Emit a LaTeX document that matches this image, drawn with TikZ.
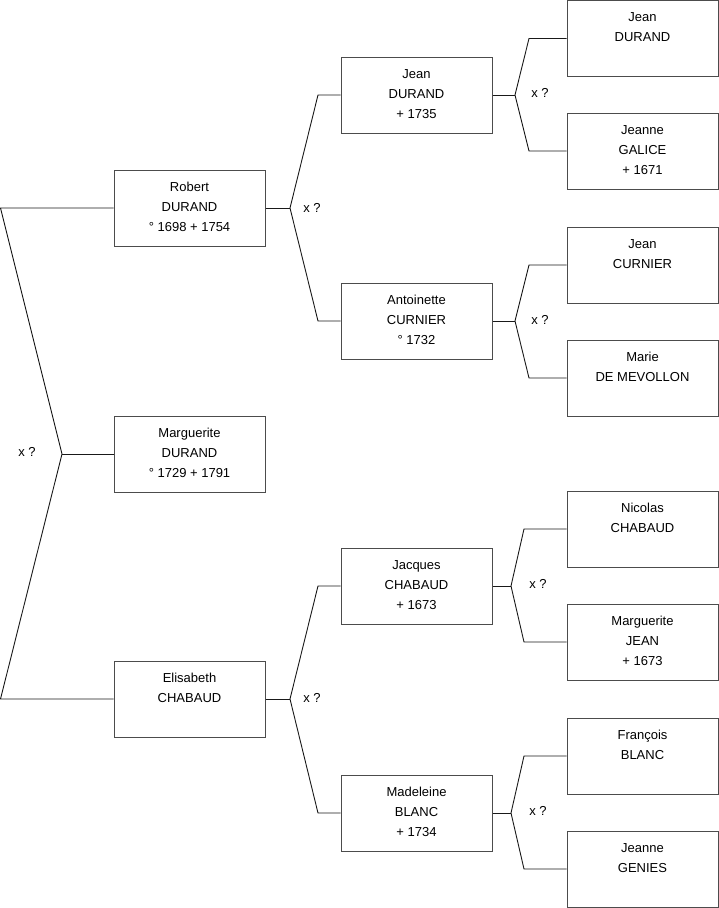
\documentclass[tikz,border=0pt]{standalone}
\usepackage{fontspec}
\setmainfont{Liberation Sans}
\tikzset{
  pbox/.style={draw=black!70, line width=1pt, rectangle, minimum width=151pt, minimum height=76pt, inner sep=0pt, fill=white},
  ptxt/.style={anchor=base, inner sep=0pt, font=\fontsize{13}{15}\selectfont},
  link/.style={draw=black!90, line width=0.9pt},
  xlab/.style={inner sep=0pt, font=\fontsize{13}{15}\selectfont}
}
\newcommand\pbox[4]{%
  \node[pbox] (#1) at (#2,#3) {};
  \foreach \t [count=\i] in {#4} {
    \node[ptxt] (#1-\i) at ([yshift={-1.5pt-20pt*\i}]#1.north) {\t};
  }
}
\begin{document}
\begin{tikzpicture}[x=1pt,y=-1pt]
\useasboundingbox (0,0) rectangle (719,908);
% level 1
\pbox{r}{189.5}{208}{Robert,DURAND,° 1698 + 1754}
\pbox{m}{189.5}{454}{Marguerite,DURAND,° 1729 + 1791}
\pbox{e}{189.5}{699}{Elisabeth,CHABAUD}
% level 2
\pbox{jd}{416.5}{95}{Jean,DURAND,+ 1735}
\pbox{ac}{416.5}{321}{Antoinette,CURNIER,° 1732}
\pbox{jc}{416.5}{586}{Jacques,CHABAUD,+ 1673}
\pbox{mb}{416.5}{813}{Madeleine,BLANC,+ 1734}
% level 3
\pbox{jd2}{642.5}{38.5}{Jean,DURAND}
\pbox{jg}{642.5}{151}{Jeanne,GALICE,+ 1671}
\pbox{jcu}{642.5}{265}{Jean,CURNIER}
\pbox{md}{642.5}{378}{Marie,DE MEVOLLON}
\pbox{nc}{642.5}{529}{Nicolas,CHABAUD}
\pbox{mj}{642.5}{642}{Marguerite,JEAN,+ 1673}
\pbox{fb}{642.5}{756}{François,BLANC}
\pbox{jge}{642.5}{869}{Jeanne,GENIES}
% connectors: root
\coordinate (a0) at (0.5,208);
\coordinate (j0) at (62,454);
\coordinate (b0) at (0.5,699);
\draw[link] (r.west) -- (a0) -- (j0) -- (b0) -- (e.west);
\draw[link] (j0) -- (m.west);
\node[xlab] (x0) at (27,452) {x ?};
% Robert
\coordinate (jr) at (290,208);
\coordinate (ur) at (318,95);
\coordinate (dr) at (318,321);
\draw[link] (r.east) -- (jr);
\draw[link] (jd.west) -- (ur) -- (jr) -- (dr) -- (ac.west);
\node[xlab] (x1) at (312,208) {x ?};
% Elisabeth
\coordinate (je) at (290,699);
\coordinate (ue) at (318,586);
\coordinate (de) at (318,813);
\draw[link] (e.east) -- (je);
\draw[link] (jc.west) -- (ue) -- (je) -- (de) -- (mb.west);
\node[xlab] (x2) at (312,698) {x ?};
% Jean DURAND
\coordinate (jj) at (515,95);
\coordinate (uj) at (529,38.5);
\coordinate (dj) at (529,151);
\draw[link] (jd.east) -- (jj);
\draw[link] (jd2.west) -- (uj) -- (jj) -- (dj) -- (jg.west);
\node[xlab] (x3) at (540,93) {x ?};
% Antoinette
\coordinate (ja) at (515,321);
\coordinate (ua) at (529,265);
\coordinate (da) at (529,378);
\draw[link] (ac.east) -- (ja);
\draw[link] (jcu.west) -- (ua) -- (ja) -- (da) -- (md.west);
\node[xlab] (x4) at (540,320) {x ?};
% Jacques
\coordinate (jq) at (511,586);
\coordinate (uq) at (524,529);
\coordinate (dq) at (524,642);
\draw[link] (jc.east) -- (jq);
\draw[link] (nc.west) -- (uq) -- (jq) -- (dq) -- (mj.west);
\node[xlab] (x5) at (538,584) {x ?};
% Madeleine
\coordinate (jm) at (511,813);
\coordinate (um) at (524,756);
\coordinate (dm) at (524,869);
\draw[link] (mb.east) -- (jm);
\draw[link] (fb.west) -- (um) -- (jm) -- (dm) -- (jge.west);
\node[xlab] (x6) at (538,811) {x ?};
\end{tikzpicture}
\end{document}
